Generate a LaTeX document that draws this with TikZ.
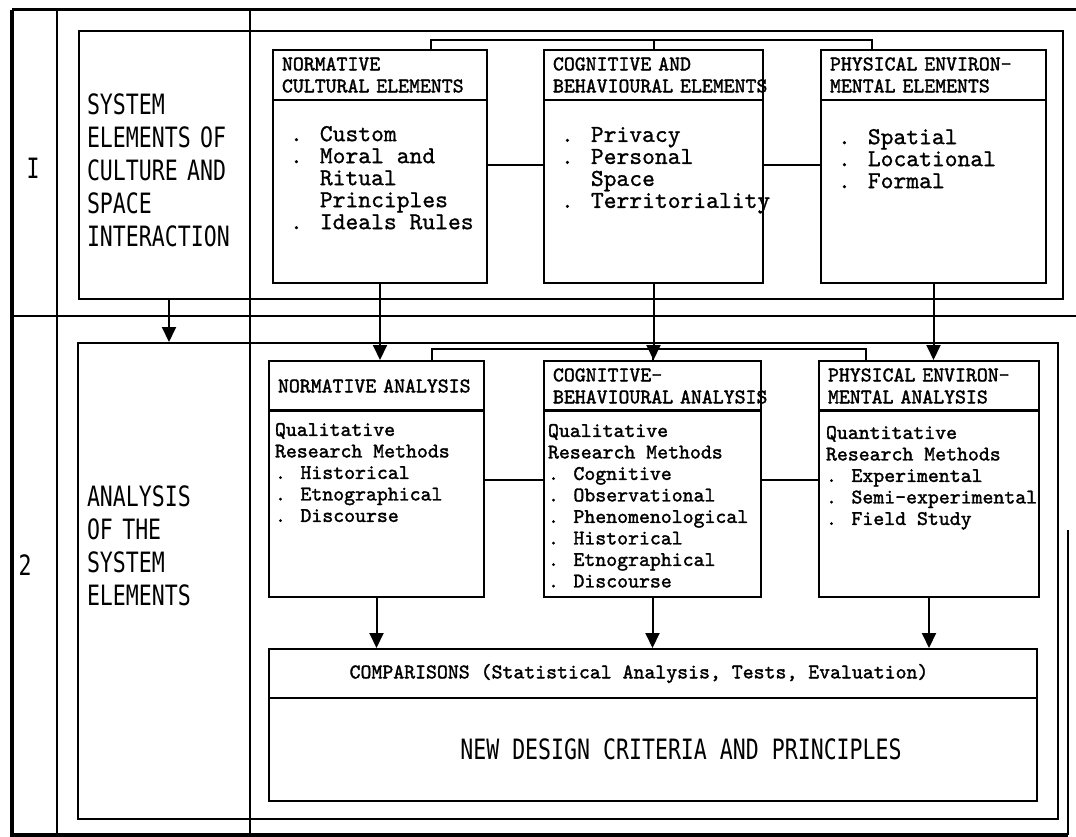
\documentclass[tikz,border=0pt]{standalone}
\usepackage{fontspec}
\usetikzlibrary{arrows.meta}
\newfontfamily\plotfont[FakeStretch=0.77]{DejaVu Sans Mono}
\newfontfamily\typefont[FakeBold=1]{lmmono10-regular.otf}
\newfontfamily\elitefont[FakeBold=1.6]{lmmono10-regular.otf}
\begin{document}
\begin{tikzpicture}[x=1pt, y=-1pt, line width=2pt,
  box/.style={draw, line width=2pt, inner sep=0pt, anchor=north west},
  plot/.style={font=\plotfont\fontsize{28}{33}\selectfont, inner sep=0pt, align=left},
  head/.style={box, font=\elitefont\fontsize{20.8}{22}\selectfont, align=left, inner xsep=9pt, minimum height=50pt},
  elist/.style={font=\typefont\fontsize{24.4}{22}\selectfont, inner sep=0pt, align=left, anchor=north west},
  alist/.style={font=\elitefont\fontsize{20.8}{21.5}\selectfont, inner sep=0pt, align=left, anchor=north west},
  arr/.style={-{Triangle[length=15pt,width=14pt]}, line width=2pt}]
\useasboundingbox (0,0) rectangle (1076,837);
% table lines
\draw [line width=3pt] (12,10) -- (1076,10);
\draw [line width=3.5pt] (12,10) -- (12,835) -- (1068,835);
\draw (57,10) -- (57,835);
\draw (250,10) -- (250,835);
\draw [line width=2.5pt] (12,316) -- (1076,316);
\draw (1068,530) -- (1068,835);
\node [plot] (rowi) at (33,168) {I};
\node [plot] (rowii) at (25,565) {2};
% frames
\node [box, minimum width=984pt, minimum height=268pt] (frame1) at (78,30) {};
\node [box, minimum width=980pt, minimum height=476pt] (frame2) at (77,342) {};
\node [plot, text width=164pt, anchor=west] (sys) at (86,170) {SYSTEM\\ELEMENTS OF\\CULTURE AND\\SPACE\\INTERACTION};
\node [plot, text width=164pt, anchor=west] (ana) at (86,546) {ANALYSIS\\OF THE\\SYSTEM\\ELEMENTS};
% row I
\node [head, text width=196pt] (normhead) at (272,49) {NORMATIVE\\CULTURAL ELEMENTS};
\node [box, minimum width=214pt, minimum height=183pt] (normbody) at (272,99) {};
\node [head, text width=201pt] (coghead) at (543,49) {COGNITIVE AND\\\mbox{BEHAVIOURAL ELEMENTS}};
\node [box, minimum width=219pt, minimum height=183pt] (cogbody) at (543,99) {};
\node [head, text width=207pt] (physhead) at (820,49) {PHYSICAL ENVIRON-\\MENTAL ELEMENTS};
\node [box, minimum width=225pt, minimum height=183pt] (physbody) at (820,99) {};
\node [elist] (normlist) at ([xshift=17pt,yshift=-26pt]normbody.north west) {. Custom\\. Moral and\\\hphantom{. }Ritual\\\hphantom{. }Principles\\. Ideals Rules};
\node [elist] (coglist) at ([xshift=17pt,yshift=-27pt]cogbody.north west) {. Privacy\\. Personal\\\hphantom{. }Space\\. Territoriality};
\node [elist] (physlist) at ([xshift=17pt,yshift=-29pt]physbody.north west) {. Spatial\\. Locational\\. Formal};
% row 2
\node [head, text width=197pt] (normahead) at (268,360) {\mbox{NORMATIVE ANALYSIS}};
\node [box, minimum width=215pt, minimum height=187pt] (normabody) at (268,409) {};
\node [head, text width=199pt] (cogahead) at (543,360) {COGNITIVE-\\\mbox{BEHAVIOURAL ANALYSIS}};
\node [box, minimum width=217pt, minimum height=187pt] (cogabody) at (543,409) {};
\node [head, text width=202pt] (physahead) at (818,360) {PHYSICAL ENVIRON-\\MENTAL ANALYSIS};
\node [box, minimum width=220pt, minimum height=187pt] (physabody) at (818,409) {};
\node [alist] (normalist) at ([xshift=6pt,yshift=-13pt]normabody.north west) {Qualitative\\Research Methods\\. Historical\\. Etnographical\\. Discourse};
\node [alist] (cogalist) at ([xshift=4pt,yshift=-14pt]cogabody.north west) {Qualitative\\Research Methods\\. Cognitive\\. Observational\\. Phenomenological\\. Historical\\. Etnographical\\. Discourse};
\node [alist] (physalist) at ([xshift=7pt,yshift=-16pt]physabody.north west) {Quantitative\\Research Methods\\. Experimental\\. Semi-experimental\\. Field Study};
\node [box, minimum width=768pt, minimum height=49pt, font=\elitefont\fontsize{20.8}{22}\selectfont] (comphead) at (268,648) {COMPARISONS (Statistical Analysis, Tests, Evaluation)\hspace*{28pt}};
\node [box, minimum width=768pt, minimum height=103pt] (compbody) at (268,697) {};
\node [plot] (newdes) at ([xshift=28pt]compbody.center) {NEW DESIGN CRITERIA AND PRINCIPLES};
% brackets and links
\draw ([xshift=51pt]normhead.north) -- ++(0,-9) -| ([xshift=-62pt]physhead.north);
\draw (coghead.north) -- ++(0,-9);
\draw ([xshift=55pt]normahead.north) -- ++(0,-11) -| ([xshift=-63pt]physahead.north);
\draw (cogahead.north) -- ++(0,-11);
\coordinate (c1) at ([yshift=-66pt]normbody.north east);
\coordinate (c2) at ([yshift=-66pt]cogbody.north east);
\coordinate (c3) at ([yshift=-71pt]normabody.north east);
\coordinate (c4) at ([yshift=-71pt]cogabody.north east);
\draw (c1) -- (c1 -| cogbody.west);
\draw (c2) -- (c2 -| physbody.west);
\draw (c3) -- (c3 -| cogabody.west);
\draw (c4) -- (c4 -| physabody.west);
% arrows
\draw [arr] (sys.center |- frame1.south) -- (sys.center |- frame2.north);
\draw [arr] (normbody.south) -- (normbody.south |- normahead.north);
\draw [arr] (cogbody.south) -- (cogbody.south |- cogahead.north);
\draw [arr] (physbody.south) -- (physbody.south |- physahead.north);
\draw [arr] (normabody.south) -- (normabody.south |- comphead.north);
\draw [arr] (cogabody.south) -- (cogabody.south |- comphead.north);
\draw [arr] (physabody.south) -- (physabody.south |- comphead.north);
\end{tikzpicture}
\end{document}
